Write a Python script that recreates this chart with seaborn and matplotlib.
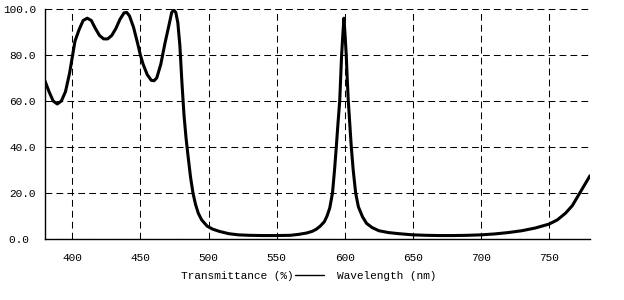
import matplotlib
matplotlib.use("Agg")
import matplotlib.pyplot as plt
import seaborn as sns
import pandas as pd
from matplotlib.lines import Line2D

wavelength = [380, 383, 386, 389, 392, 395, 398, 400, 402, 405, 408, 411, 414, 417, 420, 423, 426,
              429, 432, 435, 438, 440, 442, 445, 448, 450, 452, 455, 458, 460, 462, 465, 468, 471,
              473, 474.5, 476, 477.5, 479, 480.5, 482, 483.5, 485, 486.8, 488.6, 490.5, 492.5, 495,
              499, 503, 508, 515, 522, 530, 540, 550, 560, 566, 572, 576, 579, 582, 585, 587, 589,
              591, 592.5, 593.8, 595, 596.3, 597, 597.7, 598.5, 599.4, 600.3, 601.1, 601.8, 602.6,
              603.7, 604.8, 606.2, 608, 610, 613, 616, 620, 625, 632, 640, 650, 660, 670, 680, 690,
              700, 710, 720, 730, 740, 750, 756, 762, 767, 772, 776, 780]
transmittance = [68.7, 64, 60, 58.7, 60, 64, 72, 79, 86, 91, 95, 96, 95, 91.5, 88.5, 87, 87,
                 88.5, 91.5, 95.5, 98.3, 98.5, 97, 92, 85, 80, 76, 71.5, 69, 68.8, 70, 76, 85, 93,
                 98.5, 99.6, 98.5, 94, 84, 68, 54, 44, 36, 27, 20, 15, 11.2, 8.3,
                 5.6, 4.3, 3.3, 2.3, 1.8, 1.6, 1.5, 1.5, 1.6, 2.0, 2.6, 3.3, 4.2, 5.6, 7.5, 10, 13.5,
                 20, 30, 40, 50, 60, 70, 80, 88, 96, 88, 80, 70, 60,
                 50, 40, 30, 20, 14, 9.7, 6.8, 5.0, 3.6, 2.8, 2.3, 1.8, 1.6, 1.5, 1.5, 1.6,
                 1.8, 2.2, 2.8, 3.6, 4.8, 6.5, 8.3, 11.2, 14.5, 19.5, 23.5, 27.5]

x_ticks = [400, 450, 500, 550, 600, 650, 700, 750]
y_ticks = [0, 20, 40, 60, 80, 100]
y_tick_labels = ["0.0 ", "20.0", "40.0", "60.0", "80.0", "100.0"]
label_left = "Transmittance (%)"
label_right = "Wavelength (nm)"

sns.set_style("white")
plt.rcParams['font.family'] = ['Liberation Mono', 'DejaVu Sans Mono']

df = pd.DataFrame({"wavelength": wavelength, "T": transmittance})

fig = plt.figure(figsize=(6.24, 3.0), dpi=100)
ax = fig.add_axes([45 / 624, 61 / 300, 545 / 624, 230 / 300])
sns.lineplot(data=df, x="wavelength", y="T", ax=ax, color="black", linewidth=2.2,
             solid_joinstyle="round", solid_capstyle="round")

ax.set_xlim(380, 780)
ax.set_ylim(0, 100)
ax.set_xticks(x_ticks)
ax.set_xticklabels([str(v) for v in x_ticks])
ax.set_yticks(y_ticks)
ax.set_yticklabels(y_tick_labels)
ax.set_xlabel("")
ax.set_ylabel("")
ax.grid(True, color="black", linestyle=(0, (6.5, 4)), linewidth=0.75)
ax.set_axisbelow(True)
for s in ["top", "right"]:
    ax.spines[s].set_visible(False)
for s in ["left", "bottom"]:
    ax.spines[s].set_color("black")
    ax.spines[s].set_linewidth(1.0)
ax.tick_params(axis="both", direction="out", length=4, width=0.75, color="black",
               labelsize=8, labelcolor="black")
ax.tick_params(axis="x", pad=6)
ax.tick_params(axis="y", pad=2.5)
ax.set_facecolor("white")

fig.text(294 / 624, 1 - 276 / 300, label_left, ha="right", va="center", fontsize=8, color="black")
fig.add_artist(Line2D([295 / 624, 324 / 624], [1 - 274.5 / 300, 1 - 274.5 / 300],
                      color="black", linewidth=1.0, transform=fig.transFigure))
fig.text(337 / 624, 1 - 276 / 300, label_right, ha="left", va="center", fontsize=8, color="black")

fig.savefig("out.png", dpi=100, facecolor="white")
